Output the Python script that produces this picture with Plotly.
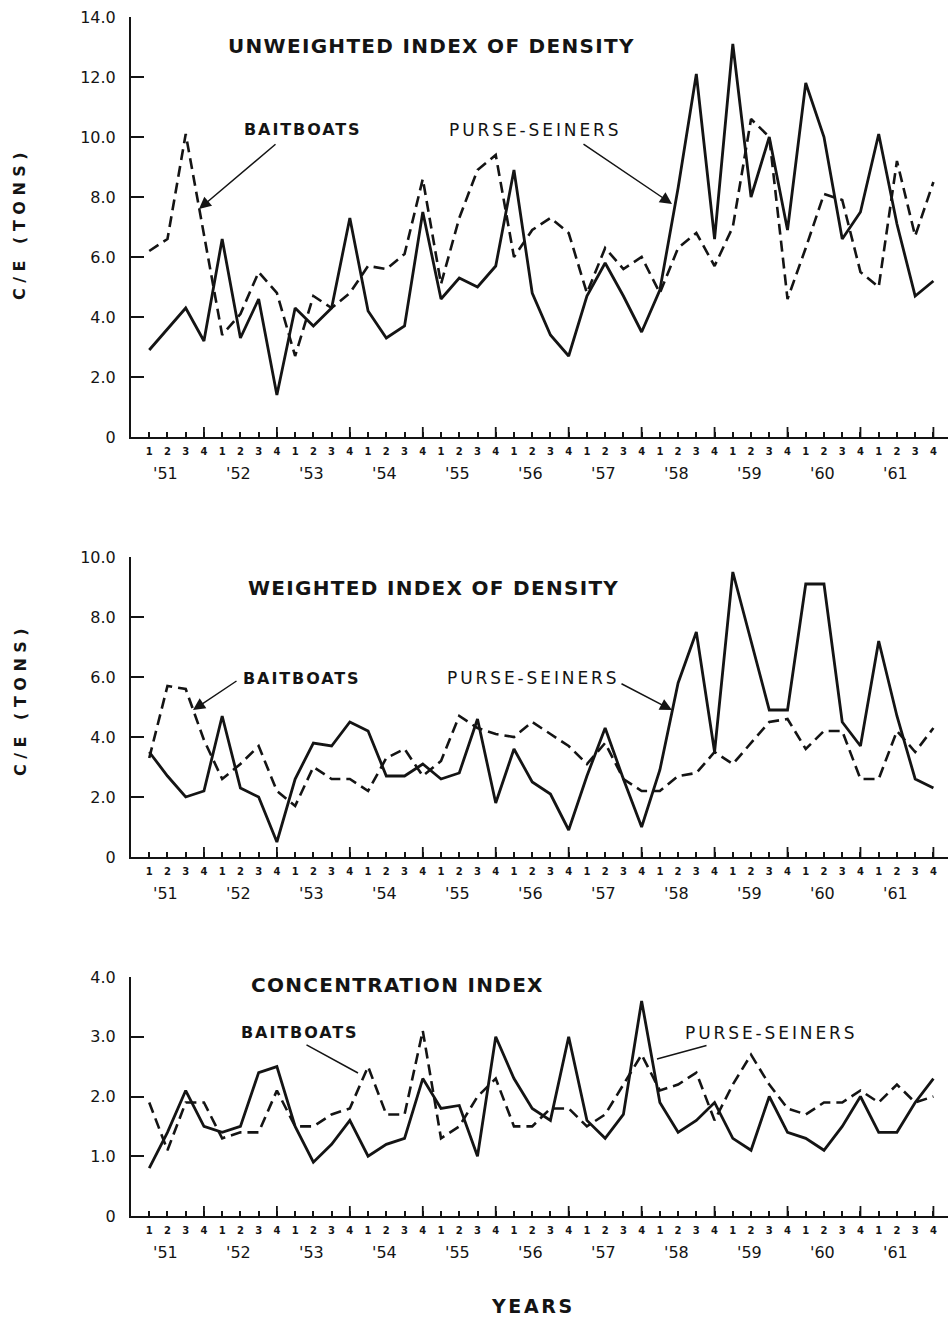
import plotly.graph_objects as go

# Quarterly catch-per-effort indices, 1951 Q1 .. 1961 Q4
years = ["'51", "'52", "'53", "'54", "'55", "'56", "'57", "'58", "'59", "'60", "'61"]
quarters = ["1", "2", "3", "4"]

purse_unweighted = [2.9, 3.6, 4.3, 3.2, 6.6, 3.3, 4.6, 1.4, 4.3, 3.7, 4.3, 7.3,
                    4.2, 3.3, 3.7, 7.5, 4.6, 5.3, 5.0, 5.7, 8.9, 4.8, 3.4, 2.7,
                    4.7, 5.8, 4.7, 3.5, 4.9, 8.3, 12.1, 6.6, 13.1, 8.0, 10.0, 6.9,
                    11.8, 10.0, 6.6, 7.5, 10.1, 7.1, 4.7, 5.2]
bait_unweighted = [6.2, 6.6, 10.1, 6.8, 3.4, 4.1, 5.5, 4.8, 2.7, 4.7, 4.3, 4.8,
                   5.7, 5.6, 6.1, 8.6, 5.1, 7.3, 8.9, 9.4, 6.0, 6.9, 7.3, 6.8,
                   4.8, 6.3, 5.6, 6.0, 4.8, 6.3, 6.8, 5.7, 7.0, 10.6, 10.0, 4.6,
                   6.3, 8.1, 7.9, 5.5, 5.0, 9.2, 6.7, 8.5]

purse_weighted = [3.5, 2.7, 2.0, 2.2, 4.7, 2.3, 2.0, 0.5, 2.6, 3.8, 3.7, 4.5,
                  4.2, 2.7, 2.7, 3.1, 2.6, 2.8, 4.6, 1.8, 3.6, 2.5, 2.1, 0.9,
                  2.7, 4.3, 2.6, 1.0, 2.9, 5.8, 7.5, 3.5, 9.5, 7.2, 4.9, 4.9,
                  9.1, 9.1, 4.5, 3.7, 7.2, 4.7, 2.6, 2.3]
bait_weighted = [3.3, 5.7, 5.6, 3.9, 2.6, 3.1, 3.7, 2.2, 1.7, 3.0, 2.6, 2.6,
                 2.2, 3.3, 3.6, 2.7, 3.2, 4.7, 4.3, 4.1, 4.0, 4.5, 4.1, 3.7,
                 3.1, 3.8, 2.6, 2.2, 2.2, 2.7, 2.8, 3.5, 3.1, 3.8, 4.5, 4.6,
                 3.6, 4.2, 4.2, 2.6, 2.6, 4.2, 3.5, 4.3]

purse_concentration = [0.8, 1.4, 2.1, 1.5, 1.4, 1.5, 2.4, 2.5, 1.5, 0.9, 1.2, 1.6,
                       1.0, 1.2, 1.3, 2.3, 1.8, 1.85, 1.0, 3.0, 2.3, 1.8, 1.6, 3.0,
                       1.6, 1.3, 1.7, 3.6, 1.9, 1.4, 1.6, 1.9, 1.3, 1.1, 2.0, 1.4,
                       1.3, 1.1, 1.5, 2.0, 1.4, 1.4, 1.9, 2.3]
bait_concentration = [1.9, 1.1, 1.9, 1.9, 1.3, 1.4, 1.4, 2.1, 1.5, 1.5, 1.7, 1.8,
                      2.5, 1.7, 1.7, 3.1, 1.3, 1.5, 2.0, 2.3, 1.5, 1.5, 1.8, 1.8,
                      1.5, 1.7, 2.2, 2.7, 2.1, 2.2, 2.4, 1.6, 2.2, 2.7, 2.2, 1.8,
                      1.7, 1.9, 1.9, 2.1, 1.9, 2.2, 1.9, 2.0]

panel_titles = ["UNWEIGHTED INDEX OF DENSITY", "WEIGHTED INDEX OF DENSITY", "CONCENTRATION INDEX"]
y_ticks = [
    ([0, 2, 4, 6, 8, 10, 12, 14], ["0", "2.0", "4.0", "6.0", "8.0", "10.0", "12.0", "14.0"]),
    ([0, 2, 4, 6, 8, 10], ["0", "2.0", "4.0", "6.0", "8.0", "10.0"]),
    ([0, 1, 2, 3, 4], ["0", "1.0", "2.0", "3.0", "4.0"]),
]

W, H = 948, 1320
INK = "#141414"
FONT = "DejaVu Sans"


def px(x):
    return x / W


def py(y):
    return 1 - y / H


def spaced(text, sp):
    return f'<span style="letter-spacing:{sp}px">{text}</span>'


def note(text, x, y, size, bold=False, **kw):
    font = dict(family=FONT, size=size, color=INK)
    if bold:
        font["weight"] = "bold"
    d = dict(text=text, xref="paper", yref="paper", x=px(x), y=py(y),
             xanchor="center", yanchor="middle", showarrow=False, font=font)
    d.update(kw)
    return d


n = len(purse_unweighted)
xs = list(range(n))
quarter_labels = [quarters[i % 4] for i in xs]

# pixel geometry of each panel: (top of axis, baseline, y max)
panels = [
    (17, 437, 14, purse_unweighted, bait_unweighted),
    (557, 857, 10, purse_weighted, bait_weighted),
    (977, 1216, 4, purse_concentration, bait_concentration),
]

fig = go.Figure()
annotations = []
shapes = []

for k, (top, base, ymax, purse, bait) in enumerate(panels):
    xa = "x" if k == 0 else f"x{k + 1}"
    ya = "y" if k == 0 else f"y{k + 1}"
    fig.add_trace(go.Scatter(x=xs, y=bait, mode="lines", xaxis=xa, yaxis=ya,
                             line=dict(color=INK, width=2.6, dash="11px,6px"),
                             showlegend=False, hoverinfo="skip"))
    fig.add_trace(go.Scatter(x=xs, y=purse, mode="lines", xaxis=xa, yaxis=ya,
                             line=dict(color=INK, width=2.8),
                             showlegend=False, hoverinfo="skip"))

    ax_key = "xaxis" if k == 0 else f"xaxis{k + 1}"
    ay_key = "yaxis" if k == 0 else f"yaxis{k + 1}"
    fig.update_layout(**{
        ax_key: dict(domain=[px(131), 1], range=[-1.0, 43.8], anchor=ya,
                     showline=True, linecolor=INK, linewidth=2,
                     ticks="inside", ticklen=5, tickwidth=1.6, tickcolor=INK,
                     tickvals=xs, ticktext=quarter_labels,
                     tickfont=dict(family=FONT, size=10, color=INK, weight="bold"),
                     ticklabelstandoff=4, automargin=False,
                     showgrid=False, zeroline=False, fixedrange=True),
        ay_key: dict(domain=[py(base), py(top)], range=[0, ymax], anchor=xa,
                     showline=True, linecolor=INK, linewidth=2,
                     ticks="inside", ticklen=13, tickwidth=1.6, tickcolor=INK,
                     tickvals=y_ticks[k][0], ticktext=y_ticks[k][1],
                     tickfont=dict(family=FONT, size=16, color=INK),
                     ticklabelstandoff=10, automargin=False,
                     showgrid=False, zeroline=False, fixedrange=True),
    })

    # longer ticks at each year's fourth quarter
    for i in xs:
        if i % 4 == 3:
            shapes.append(dict(type="line", xref=xa, yref=ya, x0=i, x1=i,
                               ysizemode="pixel", yanchor=0, y0=0, y1=10,
                               line=dict(color=INK, width=1.8)))

    # year labels under each group of quarters
    for j, yr in enumerate(years):
        annotations.append(dict(text=yr, xref=xa, yref="paper", x=4 * j + 0.9,
                                y=py(base + 36), xanchor="center", yanchor="middle",
                                showarrow=False,
                                font=dict(family=FONT, size=16, color=INK)))

title_pos = [(431, 46), (433, 588), (397, 985)]
for (tx, ty), t in zip(title_pos, panel_titles):
    annotations.append(note(spaced(t, 1.3), tx, ty, 20, bold=True))

# series labels
label_pos = [
    ((303, 129), (535, 130)),
    ((302, 678), (533, 678)),
    ((300, 1032), (771, 1033)),
]
for (b, p) in label_pos:
    annotations.append(note(spaced("BAITBOATS", 1.9), b[0], b[1], 16, bold=True))
    annotations.append(note(spaced("PURSE-SEINERS", 2.9), p[0], p[1], 17))

# leader arrows: (tail, tip, with head)
leaders = [
    ((277, 143), (199, 209), True),
    ((582, 143), (672, 204), True),
    ((238, 680), (193, 710), True),
    ((620, 683), (672, 710), True),
    ((305, 1044), (358, 1073), False),
    ((708, 1045), (657, 1059), False),
]
for tail, tip, head in leaders:
    annotations.append(dict(text="", xref="paper", yref="paper",
                            x=px(tip[0]), y=py(tip[1]),
                            ax=tail[0] - tip[0], ay=tail[1] - tip[1],
                            showarrow=True, arrowhead=2 if head else 0,
                            arrowsize=1.6, arrowwidth=1.5, arrowcolor=INK))

# axis titles
for yc in (224, 700):
    annotations.append(note(spaced("C/E (TONS)", 5.5), 20, yc, 16, bold=True, textangle=-90))
annotations.append(note(spaced("YEARS", 2.6), 533, 1306, 19, bold=True))

fig.update_layout(width=W, height=H, margin=dict(l=0, r=0, t=0, b=0, autoexpand=False),
                  paper_bgcolor="white", plot_bgcolor="white",
                  annotations=annotations, shapes=shapes, showlegend=False)

fig.write_html("out.html", config={"displayModeBar": False})
